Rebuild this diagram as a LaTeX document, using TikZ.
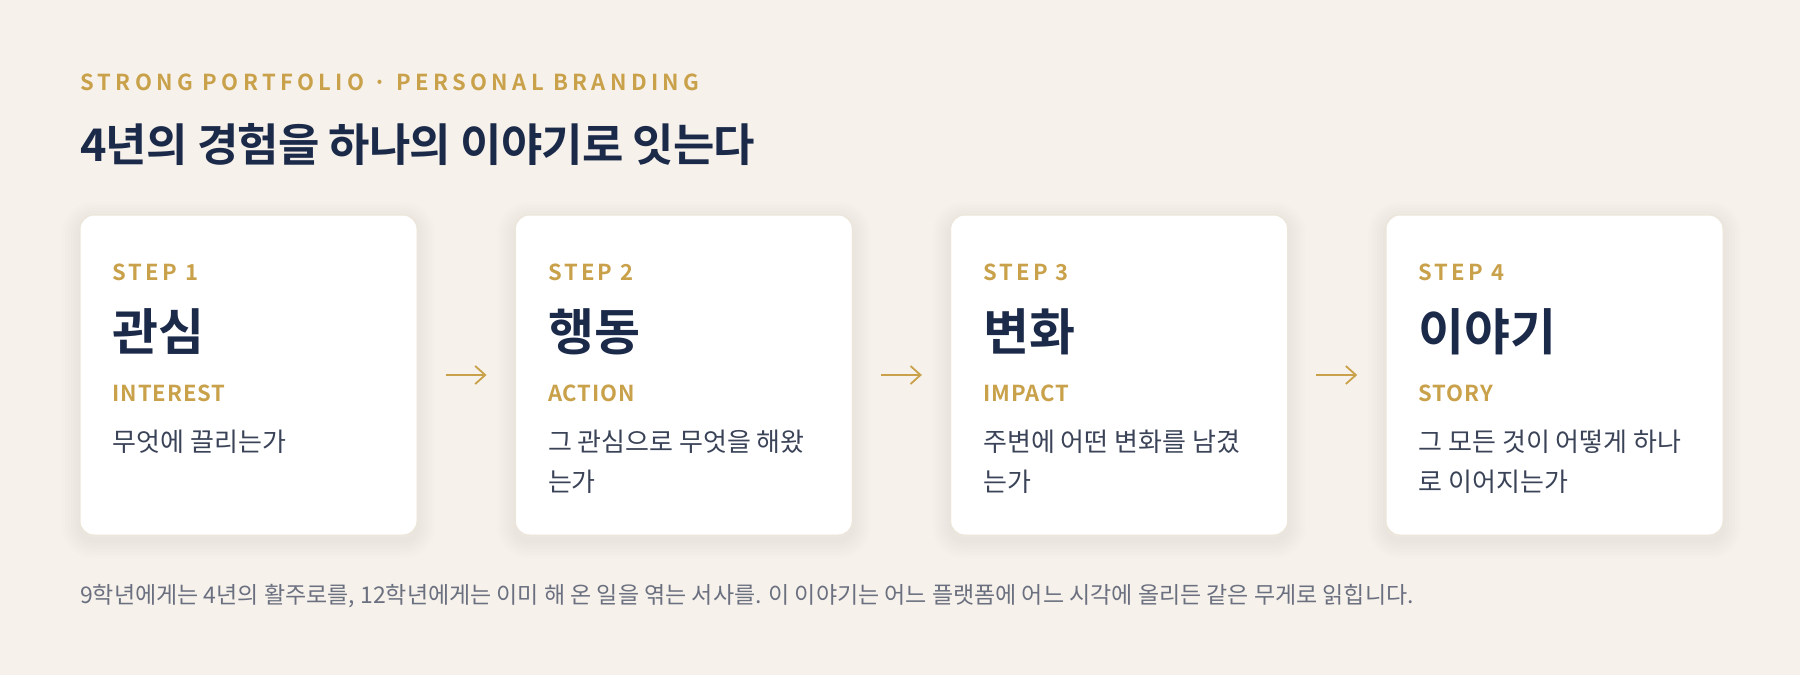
\documentclass[tikz,border=0pt]{standalone}
\usepackage{fontspec}
\setmainfont{Noto Sans CJK KR}[BoldFont={* Bold}]
\newfontfamily\eyebrowfont{Noto Sans CJK KR}[BoldFont={* Bold},LetterSpace=20]
\newfontfamily\stepfont{Noto Sans CJK KR}[BoldFont={* Bold},LetterSpace=14]
\newfontfamily\tagfont{Noto Sans CJK KR}[BoldFont={* Bold},LetterSpace=4]
\newfontfamily\titlefont{Noto Sans CJK KR}[BoldFont={* Bold},LetterSpace=-2]
\usetikzlibrary{positioning,arrows.meta}

\definecolor{paper}{HTML}{F6F1EA}
\definecolor{gold}{HTML}{C9A14A}
\definecolor{navy}{HTML}{1C2A4A}
\definecolor{ink}{HTML}{3A4357}
\definecolor{muted}{HTML}{6B7080}
\definecolor{edge}{HTML}{ECE5DA}
\definecolor{haze}{HTML}{8A7A5A}

\tikzset{
  glow/.style={preaction={draw=haze,draw opacity=0.012,line width=#1,
    transform canvas={yshift=-5pt}}}
}

\begin{document}
\begin{tikzpicture}[x=1pt,y=-1pt,node distance=97.33pt,
  card/.style={draw=edge,line width=1pt,fill=white,rounded corners=14pt,
    minimum width=337pt,minimum height=320pt,inner sep=0pt,
    glow=36pt,glow=30pt,glow=24pt,glow=18pt,glow=12pt,glow=6pt},
  txt/.style={inner sep=0pt,anchor=base west},
  eyebrow/.style={txt,text=gold,font=\eyebrowfont\bfseries\fontsize{22}{26}\selectfont},
  heading/.style={txt,text=navy,font=\titlefont\bfseries\fontsize{45}{52}\selectfont},
  steplabel/.style={txt,text=gold,font=\stepfont\bfseries\fontsize{22}{26}\selectfont},
  stepname/.style={txt,text=navy,font=\bfseries\fontsize{50}{58}\selectfont},
  tag/.style={txt,text=gold,font=\tagfont\bfseries\fontsize{22}{26}\selectfont},
  desc/.style={txt,text=ink,align=left,font=\fontsize{26}{40}\selectfont},
  note/.style={txt,text=muted,font=\fontsize{23}{28}\selectfont},
  flow/.style={draw=gold,line width=1.8pt,-{Straight Barb[length=10pt,width=18pt]},
    shorten <=28pt,shorten >=28.3pt}]
  \fill[paper] (0,0) rectangle (1800,675);
  \useasboundingbox (0,0) rectangle (1800,675);

  \node[eyebrow] (brand) at (80,90) {STRONG PORTFOLIO · PERSONAL BRANDING};
  \node[heading] (title) at (80,161.5) {4년의 경험을 하나의 이야기로 잇는다};

  \node[card] (card1) at (248.5,375) {};
  \node[card] (card2) [right=of card1] {};
  \node[card] (card3) [right=of card2] {};
  \node[card] (card4) [right=of card3] {};

  % step 1
  \node[steplabel] (step1) at ([shift={(33,65.5)}]card1.north west) {STEP 1};
  \node[stepname]  (name1) at ([shift={(33,136)}]card1.north west)  {관심};
  \node[tag]       (tag1)  at ([shift={(33,186.5)}]card1.north west) {INTEREST};
  \node[desc]      (desc1) at ([shift={(33,237)}]card1.north west)  {무엇에 끌리는가};
  % step 2 (two lines: base sits on the last line)
  \node[steplabel] (step2) at ([shift={(33,65.5)}]card2.north west) {STEP 2};
  \node[stepname]  (name2) at ([shift={(33,136)}]card2.north west)  {행동};
  \node[tag]       (tag2)  at ([shift={(33,186.5)}]card2.north west) {ACTION};
  \node[desc]      (desc2) at ([shift={(33,277)}]card2.north west)  {그 관심으로 무엇을 해왔\\는가};
  % step 3
  \node[steplabel] (step3) at ([shift={(33,65.5)}]card3.north west) {STEP 3};
  \node[stepname]  (name3) at ([shift={(33,136)}]card3.north west)  {변화};
  \node[tag]       (tag3)  at ([shift={(33,186.5)}]card3.north west) {IMPACT};
  \node[desc]      (desc3) at ([shift={(33,277)}]card3.north west)  {주변에 어떤 변화를 남겼\\는가};
  % step 4
  \node[steplabel] (step4) at ([shift={(33,65.5)}]card4.north west) {STEP 4};
  \node[stepname]  (name4) at ([shift={(33,136)}]card4.north west)  {이야기};
  \node[tag]       (tag4)  at ([shift={(33,186.5)}]card4.north west) {STORY};
  \node[desc]      (desc4) at ([shift={(33,277)}]card4.north west)  {그 모든 것이 어떻게 하나\\로 이어지는가};

  \draw[flow] (card1) -- (card2);
  \draw[flow] (card2) -- (card3);
  \draw[flow] (card3) -- (card4);

  \node[note] (footer) at (80,603) {9학년에게는 4년의 활주로를, 12학년에게는 이미 해 온 일을 엮는 서사를. 이 이야기는 어느 플랫폼에 어느 시각에 올리든 같은 무게로 읽힙니다.};
\end{tikzpicture}
\end{document}
